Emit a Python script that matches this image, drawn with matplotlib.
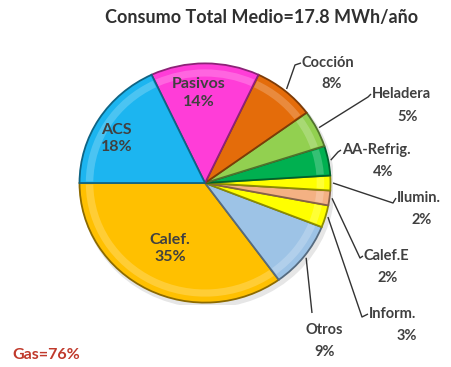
import numpy as np
import matplotlib
matplotlib.use("Agg")
import matplotlib.pyplot as plt
from matplotlib.colors import to_rgb
from matplotlib.patches import Ellipse, Wedge

# Consumption shares (%) in counter-clockwise order starting at 9 o'clock
labels = ["Calef.", "Otros", "Inform.", "Calef.E", "Ilumin.",
          "AA-Refrig.", "Heladera", "Cocción", "Pasivos", "ACS"]
shares = [35, 9, 3, 2, 2, 4, 5, 8, 14, 18]
colors = ["#FFC000", "#9DC3E6", "#FFFF00", "#F4B183", "#FFFF00",
          "#00B050", "#92D050", "#E46C0A", "#FF3DD8", "#1CB5F0"]

title = "Consumo Total Medio=17.8 MWh/año"
gas_note = "Gas=76%"

W, H = 451, 367
fig = plt.figure(figsize=(W / 100, H / 100), dpi=100)
fig.patch.set_facecolor("white")

font = ["Lato", "DejaVu Sans"]
txt_col = "#404040"

# Pie axes (slightly flattened vertically)
cx, cy, rx, ry = 205, 183, 128, 122
ax = fig.add_axes([(cx - rx) / W, (H - cy - ry) / H, 2 * rx / W, 2 * ry / H])


def darker(c, f=0.7):
    r, g, b = to_rgb(c)
    return (r * f, g * f, b * f)


def lighter(c, f=0.45):
    r, g, b = to_rgb(c)
    return (r + (1 - r) * f, g + (1 - g) * f, b + (1 - b) * f)


# soft drop shadow
ax.add_patch(Ellipse((0.02, -0.03), 2.03, 2.03, color="#c8c8c8",
                     alpha=0.45, lw=0))

wedges, _ = ax.pie(shares, colors=colors, startangle=180, counterclock=True,
                   radius=1.0, wedgeprops=dict(linewidth=1.3))
for w, c in zip(wedges, colors):
    w.set_edgecolor(darker(c, 0.55))
# inner bevel highlight
for w, c in zip(wedges, colors):
    ax.add_patch(Wedge((0, 0), 0.95, w.theta1 + 0.8, w.theta2 - 0.8,
                       width=0.06, facecolor=lighter(c, 0.35),
                       edgecolor="none", alpha=0.6))

ax.set_aspect("auto")
ax.set_xlim(-1.02, 1.02)
ax.set_ylim(-1.02, 1.02)
ax.axis("off")

# Overlay axes in pixel coordinates for labels and leader lines
ov = fig.add_axes([0, 0, 1, 1])
ov.set_xlim(0, W)
ov.set_ylim(H, 0)
ov.axis("off")

cum = np.cumsum([0] + shares)
mids = {lab: 180 + (cum[i] + cum[i + 1]) / 2 * 3.6 for i, lab in enumerate(labels)}


def edge_pt(angle_deg, r=1.0):
    a = np.deg2rad(angle_deg)
    return cx + rx * r * np.cos(a), cy - ry * r * np.sin(a)


# Labels inside the large slices
inside = {"Calef.": (243, 0.60), "Pasivos": (94, 0.74), "ACS": (152, 0.78)}
for lab, (ang, r) in inside.items():
    x, y = edge_pt(ang, r)
    v = shares[labels.index(lab)]
    ov.text(x, y, f"{lab}\n{v}%", ha="center", va="center", fontsize=11.5,
            color=txt_col, family=font, fontweight="bold", linespacing=1.3)

# Labels outside with leader lines: (elbow point, text anchor, value anchor)
outside = {
    "Cocción": ((295, 65), (302, 63), (332, 84)),
    "Heladera": ((368, 97), (372, 94), (408, 117)),
    "AA-Refrig.": ((338, 152), (342, 150), (383, 172)),
    "Ilumin.": ((393, 203), (397, 198), (422, 220)),
    "Calef.E": ((360, 258), (364, 256), (388, 278)),
    "Inform.": ((362, 317), (369, 314), (407, 336)),
    "Otros": ((312, 313), None, (325, 352)),
}
for lab, (elbow, tpos, vpos) in outside.items():
    sx, sy = edge_pt(mids[lab], 1.0)
    v = shares[labels.index(lab)]
    xs, ys = [sx, elbow[0]], [sy, elbow[1]]
    if tpos is not None:
        xs.append(tpos[0] - 1)
        ys.append(tpos[1])
    ov.plot(xs, ys, color="#333333", lw=1.0, solid_capstyle="butt")
    if lab == "Otros":
        ov.text(324, 330, lab, ha="center", va="center", fontsize=10.5,
                color=txt_col, family=font, fontweight="bold")
    else:
        ov.text(tpos[0], tpos[1], lab, ha="left", va="center", fontsize=10.5,
                color=txt_col, family=font, fontweight="bold")
    ov.text(vpos[0], vpos[1], f"{v}%", ha="center", va="center", fontsize=10.5,
            color=txt_col, family=font, fontweight="bold")

ov.text(262, 17, title, ha="center", va="center", fontsize=13,
        color="#303030", family=font, fontweight="bold")
ov.text(12, 355, gas_note, ha="left", va="center", fontsize=11.5,
        color="#C0392B", family=font, fontweight="bold")

fig.savefig("out.png", dpi=100, facecolor="white")
